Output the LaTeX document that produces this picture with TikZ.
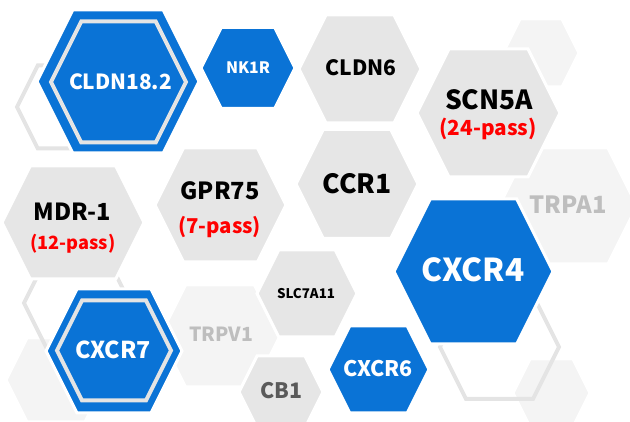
\documentclass[tikz,border=0pt]{standalone}
\usepackage{fontspec}
\newfontfamily\hexfont{Noto Sans CJK KR}
\definecolor{hexblue}{RGB}{10,115,214}
\definecolor{hexgray}{RGB}{230,230,230}
\definecolor{hexfaint}{RGB}{244,244,244}
\definecolor{ringgray}{RGB}{228,228,228}
\definecolor{paleText}{RGB}{190,190,190}
\definecolor{darkText}{RGB}{90,90,90}
\definecolor{passRed}{RGB}{255,0,0}
% #1 options, #2 cx, #3 cy, #4 width, #5 height
\newcommand{\hexshape}[5][]{%
  \path[#1] ({#2-#4/2},#3) -- ({#2-#4/2+#5/4},{#3-#5/2}) -- ({#2+#4/2-#5/4},{#3-#5/2})
    -- ({#2+#4/2},#3) -- ({#2+#4/2-#5/4},{#3+#5/2}) -- ({#2-#4/2+#5/4},{#3+#5/2}) -- cycle;}
\tikzset{
  faintHex/.style={fill=hexfaint, draw=white, line width=3pt},
  ringHex/.style={draw=ringgray, line width=4pt, line join=miter},
  grayHex/.style={fill=hexgray, draw=white, line width=3pt},
  blueHex/.style={fill=hexblue, draw=white, line width=3pt},
  innerRing/.style={draw=ringgray, line width=4pt},
  lbl/.style={inner sep=0pt, anchor=base},
}
% set #2 in the bold face, sized so that its width is #1 pt
\newlength\lblw
\newcommand{\fitlbl}[2]{%
  \settowidth\lblw{\hexfont\bfseries\fontsize{20}{20}\selectfont #2}%
  \pgfmathsetmacro\fitsize{20*(#1+2)/\lblw}%
  \hexfont\bfseries\fontsize{\fitsize}{\fitsize}\selectfont #2}
\begin{document}
\begin{tikzpicture}[x=1pt,y=-1pt]
\useasboundingbox (0,0) rectangle (630,422);
% faint hexagons
\hexshape[faintHex]{541}{53}{76}{68}
\hexshape[faintHex]{568}{206}{138}{116}
\hexshape[faintHex]{551.5}{393}{77}{68}
\hexshape[faintHex]{56}{380}{100}{84}
\hexshape[faintHex]{220}{336}{120}{102}
% outline hexagons
\hexshape[ringHex]{66}{107}{98}{83}
\hexshape[ringHex]{77}{303}{106}{94}
\hexshape[ringHex]{499.5}{347}{119}{104}
% gray hexagons
\hexshape[grayHex]{360}{69}{122}{108}
\hexshape[grayHex]{488.5}{113}{143}{128}
\hexshape[grayHex]{357}{184}{122}{109}
\hexshape[grayHex]{220.5}{205}{131}{114}
\hexshape[grayHex]{73}{222.5}{142}{113}
\hexshape[grayHex]{307}{293.5}{100}{87}
\hexshape[grayHex]{281}{392}{84}{72}
% blue hexagons
\hexshape[blueHex]{118}{81.5}{162}{143}
\hexshape[blueHex]{248}{68}{94}{81}
\hexshape[blueHex]{473.5}{271.5}{159}{145}
\hexshape[blueHex]{378.5}{369.5}{101}{87}
\hexshape[blueHex]{114}{351}{136}{124}
% inner rings
\hexshape[innerRing]{118.5}{82}{135}{121}
\hexshape[innerRing]{114}{350.5}{114}{100}
% labels
\node[lbl, text=white] (cldn182) at (120.5,89.3) {\fitlbl{101}{CLDN18.2}};
\node[lbl, text=white] (nk1r) at (248,74) {\fitlbl{42}{NK1R}};
\node[lbl, text=black] (cldn6) at (361,76) {\fitlbl{69}{CLDN6}};
\node[lbl, text=black] (scn5a) at (489,109.3) {\fitlbl{86}{SCN5A}};
\node[lbl, text=passRed] (p24) at (488,136) {\fitlbl{95}{(24-pass)}};
\node[lbl, text=black] (ccr1) at (357,194) {\fitlbl{67}{CCR1}};
\node[lbl, text=paleText] (trpa1) at (568,213.3) {\fitlbl{75}{TRPA1}};
\node[lbl, text=black] (gpr75) at (220,200) {\fitlbl{77}{GPR75}};
\node[lbl, text=passRed] (p7) at (219.5,233.3) {\fitlbl{81}{(7-pass)}};
\node[lbl, text=black] (mdr1) at (72.5,220.7) {\fitlbl{75}{MDR-1}};
\node[lbl, text=passRed] (p12) at (73,250) {\fitlbl{83}{(12-pass)}};
\node[lbl, text=black] (slc) at (306,298.3) {\fitlbl{56}{SLC7A11}};
\node[lbl, text=paleText] (trpv1) at (221,341.7) {\fitlbl{62}{TRPV1}};
\node[lbl, text=darkText] (cb1) at (281,398.3) {\fitlbl{40}{CB1}};
\node[lbl, text=white] (cxcr4) at (473,282) {\fitlbl{101}{CXCR4}};
\node[lbl, text=white] (cxcr6) at (378,376.7) {\fitlbl{68}{CXCR6}};
\node[lbl, text=white] (cxcr7) at (113,359) {\fitlbl{74}{CXCR7}};
\end{tikzpicture}
\end{document}
